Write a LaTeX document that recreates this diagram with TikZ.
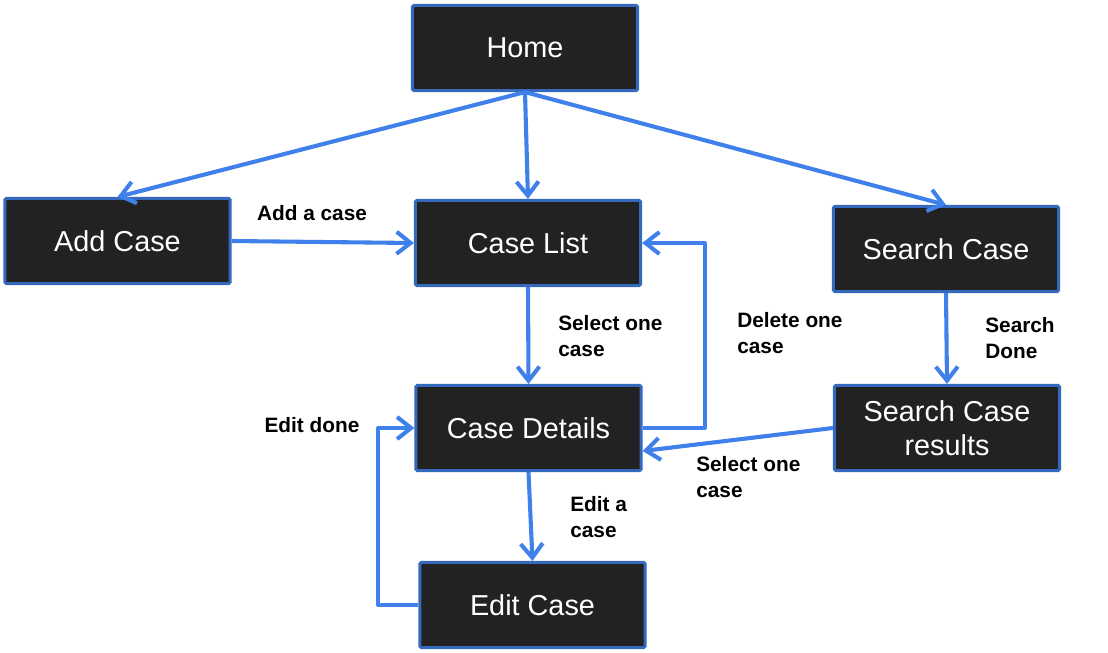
\documentclass[tikz,border=0pt]{standalone}
\usepackage{fontspec}
\setmainfont{Liberation Sans}
\usetikzlibrary{arrows.meta,positioning}
\definecolor{boxc}{RGB}{34,34,34}
\definecolor{edgec}{RGB}{52,105,190}
\definecolor{flowc}{RGB}{64,128,234}

\begin{document}
\begin{tikzpicture}[x=0.025cm,y=-0.025cm,
  scr/.style={draw=edgec,line width=2.1pt,fill=boxc,text=white,minimum width=5.63cm,minimum height=2.13cm,align=center,font=\fontsize{20.5}{24.5}\selectfont,inner sep=2pt,rounded corners=1pt},
  lab/.style={font=\bfseries\fontsize{14.8}{19}\selectfont,align=left,anchor=west,inner sep=0pt},
  flow/.style={draw=flowc,line width=2.9pt,line join=round,-{Straight Barb[length=3.5mm,width=5.5mm]}}]
\useasboundingbox (0,0) rectangle (1108,652);
% --- screens ---
\node[scr] (home) at (525,48) {Home};
\node[scr] (add) at (117.5,241) {Add Case};
\node[scr] (list) at (528,243) {Case List};
\node[scr] (srch) at (946,249) {Search Case};
\node[scr] (det) at (528.5,428) {Case Details};
\node[scr] (res) at (947,428) {Search Case\\results};
\node[scr] (edit) at (532.5,605) {Edit Case};
% --- transitions ---
\draw[flow] (home.south) -- (add.north);
\draw[flow] (home.south) -- (list.north);
\draw[flow] (home.south) -- (srch.north);
\draw[flow] (add.east) -- (list.west);
\draw[flow] (list.south) -- (det.north);
\draw[flow] (det.east) -- ++(62,0) |- (list.east);
\draw[flow] (srch.south) -- (res.north);
\draw[flow] (res.west) -- ([yshift=-0.575cm]det.east);
\draw[flow] (det.south) -- (edit.north);
\draw[flow] (edit.west) -- ++(-40,0) |- (det.west);
% --- labels ---
\node[lab,anchor=center] (ladd) at (312,213) {Add a case};
\node[lab] (lsel) at (558,336) {Select one\\case};
\node[lab] (ldel) at (737,333) {Delete one\\case};
\node[lab] (ldone) at (985,338) {Search\\Done};
\node[lab,anchor=center] (ledone) at (312,425) {Edit done};
\node[lab] (lsel2) at (696,477) {Select one\\case};
\node[lab] (ledit) at (570,517) {Edit a\\case};
\end{tikzpicture}
\end{document}
